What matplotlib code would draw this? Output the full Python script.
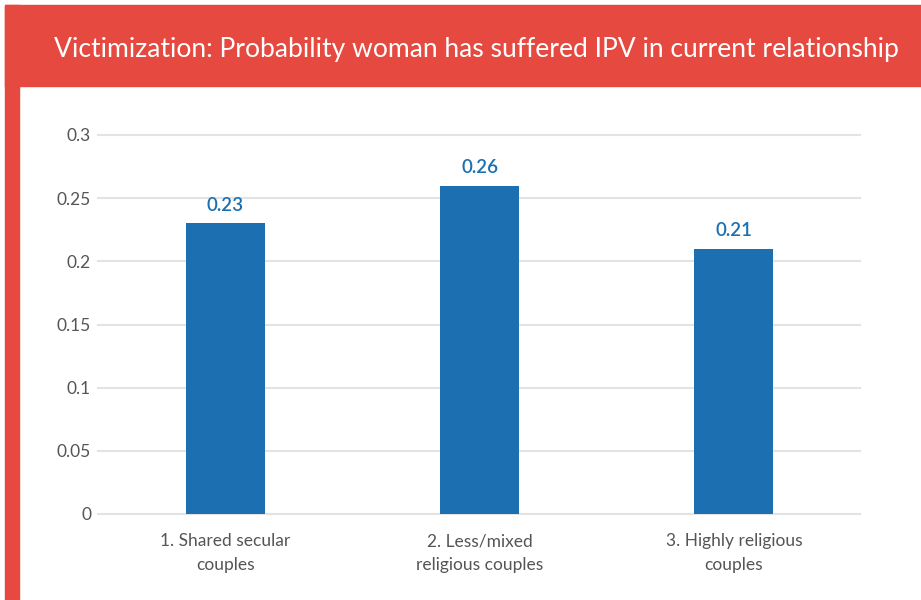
import matplotlib
matplotlib.use("Agg")
import matplotlib.pyplot as plt
from matplotlib.patches import Rectangle

categories = ["1. Shared secular\ncouples", "2. Less/mixed\nreligious couples", "3. Highly religious\ncouples"]
values = [0.23, 0.26, 0.21]
value_labels = ["0.23", "0.26", "0.21"]
yticks = [0, 0.05, 0.1, 0.15, 0.2, 0.25, 0.3]
ytick_labels = ["0", "0.05", "0.1", "0.15", "0.2", "0.25", "0.3"]
title = "Victimization: Probability woman has suffered IPV in current relationship"

RED = "#e5493f"
BLUE = "#1c70b1"
GRAY = "#555555"

W, H = 921, 600
fig = plt.figure(figsize=(W / 100, H / 100), dpi=100)
fig.patch.set_facecolor("white")

# red frame: header band and left strip
fig.patches.append(Rectangle((5 / W, (H - 86) / H), 1 - 5 / W, 81 / H,
                             transform=fig.transFigure, color=RED, zorder=0))
fig.patches.append(Rectangle((5 / W, 0), 14 / W, (H - 5) / H,
                             transform=fig.transFigure, color=RED, zorder=0))
fig.text(476 / W, (H - 49) / H, title, color="white", fontsize=19.1,
         family="Lato", ha="center", va="center")

ax_left, ax_right = 98 / W, 860 / W
y0 = (H - 514) / H
ytop = (H - 135) / H
ax = fig.add_axes([ax_left, y0, ax_right - ax_left, ytop - y0])
x = range(len(categories))
ax.bar(x, values, width=0.31, color=BLUE, zorder=3)
for xi, v, lab in zip(x, values, value_labels):
    ax.annotate(lab, (xi, v), xytext=(0, 7), textcoords="offset points",
                ha="center", va="bottom", color=BLUE, fontsize=13.5,
                family="Lato", fontweight="semibold")
ax.set_xlim(-0.501, 2.496)
ax.set_ylim(0, 0.3)
ax.set_yticks(yticks)
ax.set_yticklabels(ytick_labels)
ax.set_xticks(list(x))
ax.set_xticklabels(categories)
for s in ax.spines.values():
    s.set_visible(False)
ax.yaxis.grid(True, color="#e3e3e3", linewidth=1.5, zorder=0)
for gl in ax.yaxis.get_gridlines():
    gl.set_clip_on(False)
ax.tick_params(axis="y", length=0, pad=5, labelsize=12.5, labelcolor=GRAY)
ax.tick_params(axis="x", length=0, pad=14, labelsize=12.5, labelcolor=GRAY)
for t in ax.get_yticklabels() + ax.get_xticklabels():
    t.set_family("Lato")
for t in ax.get_xticklabels():
    t.set_linespacing(1.55)

fig.savefig("out.png", dpi=100, facecolor="white")
